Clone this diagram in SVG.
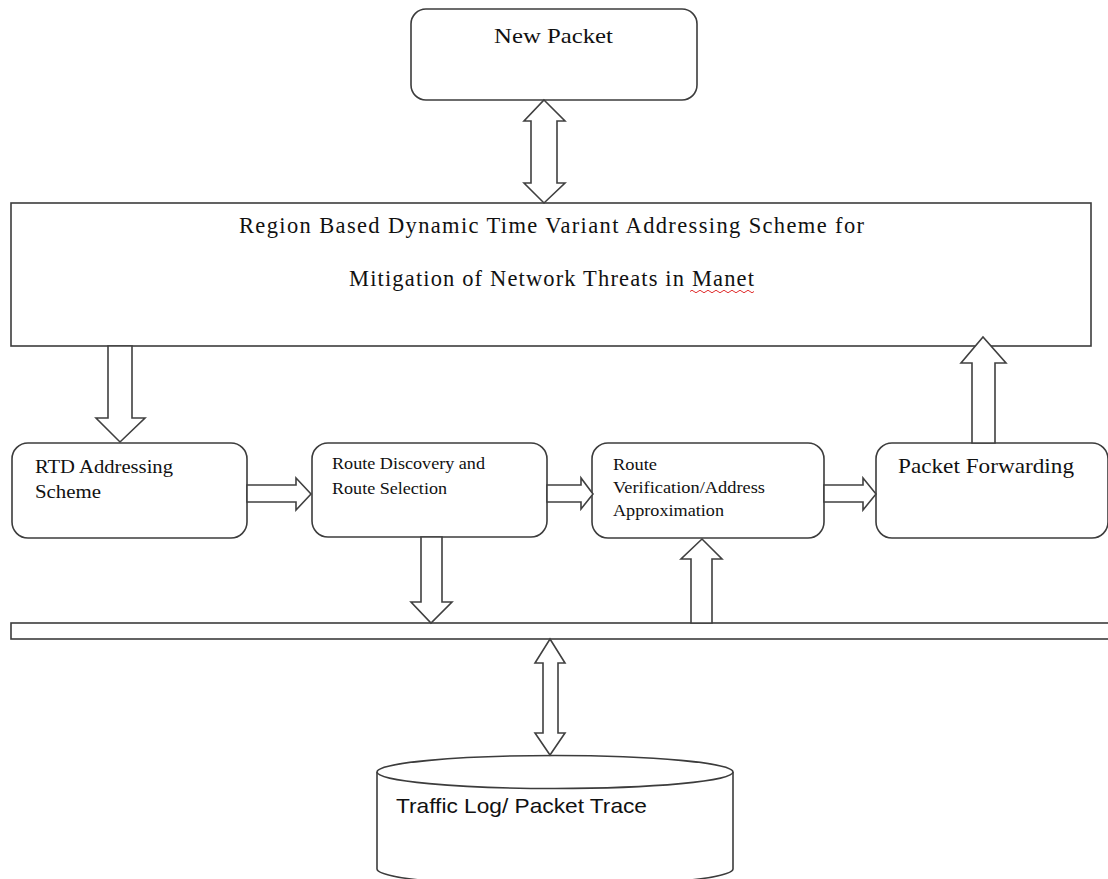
<svg xmlns="http://www.w3.org/2000/svg" width="1108" height="879" viewBox="0 0 1108 879">
<style>
.box{fill:#fff;stroke:#3c3c3c;stroke-width:1.6}
.arr{fill:#fff;stroke:#404040;stroke-width:1.6;stroke-linejoin:miter}
.ser{font-family:"Liberation Serif","Times New Roman",serif;fill:#111}
.sans{font-family:"Liberation Sans",Arial,sans-serif;fill:#111}
</style>
<rect width="1108" height="879" fill="#fff"/>
<g id="node-new-packet">
<rect class="box" x="411" y="9" width="286" height="91" rx="15"/>
<text class="ser" x="494" y="43" font-size="21" textLength="119" lengthAdjust="spacingAndGlyphs">New Packet</text>
</g>
<g id="node-scheme">
<rect class="box" x="11" y="203" width="1080" height="143"/>
<text class="ser" x="239" y="233" font-size="22.5" textLength="625" lengthAdjust="spacing">Region Based Dynamic Time Variant Addressing Scheme for</text>
<text class="ser" x="349" y="286" font-size="22.5" textLength="405" lengthAdjust="spacing">Mitigation of Network Threats in Manet</text>
<path d="M690 291.5 q2 -2.5 4 0 t4 0 t4 0 t4 0 t4 0 t4 0 t4 0 t4 0 t4 0 t4 0 t4 0 t4 0 t4 0 t4 0 t4 0 t4 0" fill="none" stroke="#e03030" stroke-width="1"/>
</g>
<g id="node-rtd">
<rect class="box" x="12" y="443" width="235" height="95" rx="16"/>
<text class="ser" x="35" y="473" font-size="19.5" textLength="138" lengthAdjust="spacingAndGlyphs">RTD Addressing</text>
<text class="ser" x="35" y="498" font-size="19.5" textLength="66" lengthAdjust="spacingAndGlyphs">Scheme</text>
</g>
<g id="node-route-discovery">
<rect class="box" x="312" y="443" width="235" height="94" rx="16"/>
<text class="ser" x="332" y="469" font-size="17" textLength="153" lengthAdjust="spacingAndGlyphs">Route Discovery and</text>
<text class="ser" x="332" y="494" font-size="17" textLength="115" lengthAdjust="spacingAndGlyphs">Route Selection</text>
</g>
<g id="node-route-verification">
<rect class="box" x="592" y="443" width="232" height="95" rx="16"/>
<text class="ser" x="613" y="470" font-size="17" textLength="44" lengthAdjust="spacingAndGlyphs">Route</text>
<text class="ser" x="613" y="493" font-size="17" textLength="152" lengthAdjust="spacingAndGlyphs">Verification/Address</text>
<text class="ser" x="613" y="516" font-size="17" textLength="111" lengthAdjust="spacingAndGlyphs">Approximation</text>
</g>
<g id="node-packet-forwarding">
<rect class="box" x="876" y="443" width="232" height="95" rx="16"/>
<text class="ser" x="898" y="473" font-size="22" textLength="176" lengthAdjust="spacingAndGlyphs">Packet Forwarding</text>
</g>
<g id="node-bus">
<rect class="box" x="11" y="623" width="1110" height="16"/>
</g>
<g id="node-traffic-log">
<path class="box" d="M377 772 L377 869 A178 17 0 0 0 733 869 L733 772"/>
<ellipse class="box" cx="555" cy="772" rx="178" ry="16.5"/>
<text class="sans" x="396" y="813" font-size="21" textLength="251" lengthAdjust="spacingAndGlyphs">Traffic Log/ Packet Trace</text>
</g>
<g id="connectors">
<polygon class="arr" points="544,100 565,121 557,121 557,183 565,183 544,203 524,183 531,183 531,121 524,121"/>
<polygon class="arr" points="108,346 132,346 132,418 145,418 120,442 96,418 108,418"/>
<polygon class="arr" points="247,485 296,485 296,478 311,494 296,510 296,502 247,502"/>
<polygon class="arr" points="547,485 581,485 581,478 593,494 581,509 581,502 547,502"/>
<polygon class="arr" points="824,485 863,485 863,478 876,494 863,510 863,502 824,502"/>
<polygon class="arr" points="972,443 972,363 961,363 983,337 1006,363 995,363 995,443"/>
<polygon class="arr" points="421,537 442,537 442,602 452,602 431,623 411,602 421,602"/>
<polygon class="arr" points="691,623 691,559 681,559 702,539 722,559 712,559 712,623"/>
<polygon class="arr" points="550,639 565,663 558,663 558,733 565,733 550,755 535,733 543,733 543,663 535,663"/>
</g>
</svg>
